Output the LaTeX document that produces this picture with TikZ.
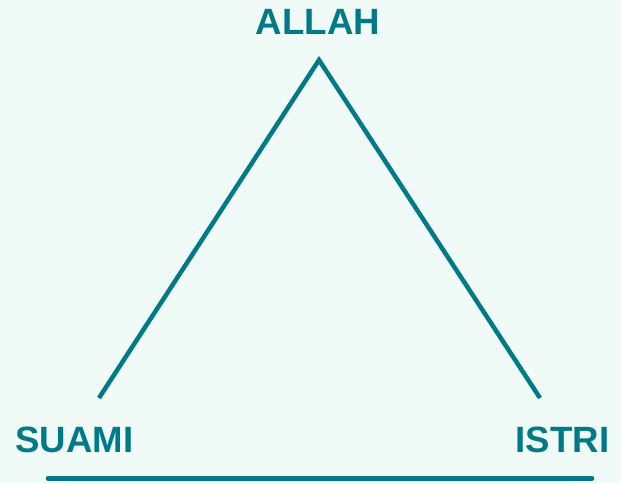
\documentclass[tikz,border=0pt]{standalone}
\usepackage{fontspec}
\setmainfont{Liberation Sans}
\usetikzlibrary{positioning}
\definecolor{tealline}{RGB}{0,122,136}
\definecolor{mintbg}{RGB}{240,251,247}
\tikzset{
  label/.style={text=tealline,font=\fontsize{36.6}{40}\selectfont\bfseries,inner sep=0pt,anchor=base},
  line/.style={draw=tealline,line width=4.5pt}
}

\begin{document}
\begin{tikzpicture}[x=1pt,y=1pt]
\fill[mintbg] (0,0) rectangle (621,483);
\useasboundingbox (0,0) rectangle (621,483);
\node[label] (allah) at (318,448) {ALLAH};
\node[label] (suami) at (74.5,31) {SUAMI};
\node[label] (istri) at (562.5,31) {ISTRI};
\coordinate (apex) at (319,423);
\coordinate (lfoot) at (99,85);
\coordinate (rfoot) at (540,85);
\coordinate (bl) at (48,4.5);
\coordinate (br) at (592,4.5);
\draw[line] (lfoot) -- (apex) -- (rfoot);
\draw[line,line cap=round] (bl) -- (br);
\end{tikzpicture}
\end{document}
